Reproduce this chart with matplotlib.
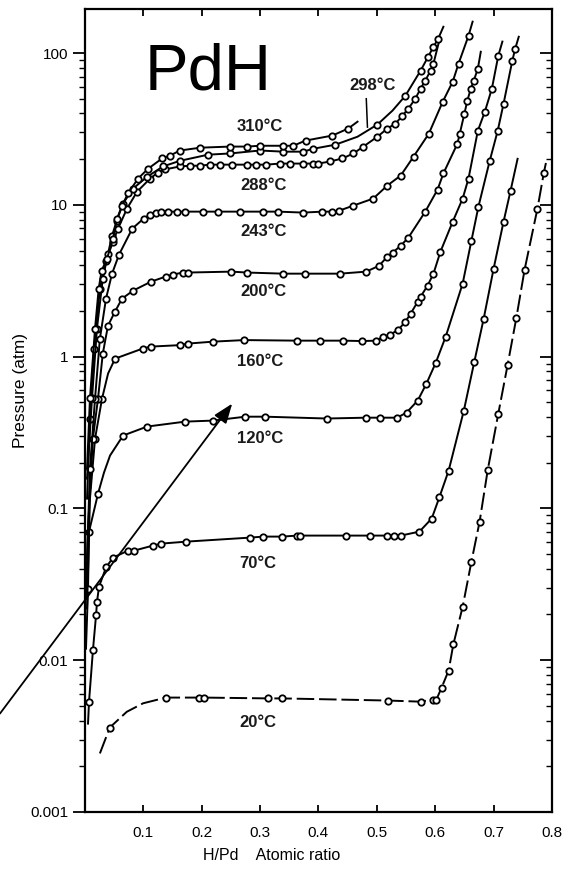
import matplotlib
matplotlib.use("Agg")
import matplotlib.pyplot as plt
from matplotlib.ticker import FixedLocator, NullFormatter, LogLocator

# ---------------- data ----------------
# each isotherm: H/Pd ratio, pressure (atm), marker flag (1 = open marker drawn)
x_20 = [0.026, 0.043, 0.072, 0.100, 0.139, 0.196, 0.205, 0.314, 0.337, 0.520, 0.575, 0.596, 0.602,
        0.611, 0.623, 0.631, 0.647, 0.662, 0.676, 0.690, 0.708, 0.724, 0.739, 0.753, 0.775, 0.786, 0.791]
p_20 = [0.00243, 0.0036, 0.00457, 0.0052, 0.00567, 0.00567, 0.00567, 0.0056, 0.0056, 0.00542, 0.00533, 0.0055, 0.0055,
        0.0066, 0.00855, 0.0127, 0.0225, 0.0446, 0.0818, 0.180, 0.421, 0.885, 1.81, 3.74, 9.44, 16.3, 20.1]
m_20 = [0, 1, 0, 0, 1, 1, 1, 1, 1, 1, 1, 1, 1, 1, 1, 1, 1, 1, 1, 1, 1, 1, 1, 1, 1, 1, 0]

x_70 = [0.0057, 0.0074, 0.0142, 0.0194, 0.0211, 0.0245, 0.0365, 0.0485, 0.0742, 0.0845, 0.117, 0.131, 0.174,
        0.283, 0.306, 0.338, 0.364, 0.369, 0.448, 0.489, 0.517, 0.529, 0.541, 0.573, 0.594, 0.607, 0.623,
        0.649, 0.667, 0.683, 0.700, 0.717, 0.729, 0.741]
p_70 = [0.00382, 0.00533, 0.01175, 0.0197, 0.0243, 0.0305, 0.0408, 0.0474, 0.0527, 0.0527, 0.0569, 0.0586, 0.0604,
        0.0642, 0.0652, 0.0652, 0.0662, 0.0662, 0.0662, 0.0662, 0.0662, 0.0662, 0.0662, 0.0703, 0.0857, 0.118, 0.1775,
        0.441, 0.927, 1.78, 3.80, 7.75, 12.4, 20.1]
m_70 = [0, 1, 1, 1, 1, 1, 1, 1, 1, 1, 1, 1, 1, 1, 1, 1, 1, 1, 1, 1, 1, 1, 1, 1, 1, 1, 1, 1, 1, 1, 1, 1, 1, 0]

x_120 = [0.0022, 0.0057, 0.0074, 0.0228, 0.0330, 0.0434, 0.0657, 0.1068, 0.172, 0.220, 0.275, 0.309, 0.414, 0.482,
         0.505, 0.535, 0.551, 0.570, 0.585, 0.601, 0.618, 0.647, 0.662, 0.674, 0.693, 0.707, 0.717, 0.732,
         0.737, 0.743]
p_120 = [0.0119, 0.0296, 0.0703, 0.125, 0.172, 0.223, 0.302, 0.346, 0.373, 0.379, 0.402, 0.402, 0.391, 0.396,
         0.396, 0.396, 0.428, 0.513, 0.664, 0.912, 1.355, 3.03, 5.81, 9.73, 19.3, 30.8, 46.4, 89.1,
         107, 128]
m_120 = [0, 1, 1, 1, 0, 0, 1, 1, 1, 1, 1, 1, 1, 1, 1, 1, 1, 1, 1, 1, 1, 1, 1, 1, 1, 1, 1, 1, 1, 0]

x_160 = [0.004, 0.009, 0.0177, 0.0297, 0.040, 0.052, 0.099, 0.113, 0.163, 0.176, 0.220, 0.273, 0.364, 0.403,
         0.443, 0.475, 0.499, 0.511, 0.523, 0.537, 0.549, 0.558, 0.570, 0.575, 0.587, 0.597, 0.609, 0.630,
         0.647, 0.657, 0.673, 0.685, 0.697, 0.708, 0.715]
p_160 = [0.0219, 0.116, 0.288, 0.529, 0.773, 0.97, 1.129, 1.164, 1.19, 1.218, 1.255, 1.285, 1.274, 1.274,
         1.274, 1.266, 1.274, 1.355, 1.396, 1.506, 1.70, 1.92, 2.30, 2.48, 2.94, 3.52, 4.92, 7.75,
         11.0, 14.9, 30.8, 41.1, 58.3, 96.1, 119]
m_160 = [0, 0, 1, 1, 0, 1, 1, 1, 1, 1, 1, 1, 1, 1, 1, 1, 1, 1, 1, 1, 1, 1, 1, 1, 1, 1, 1, 1, 1, 1, 1, 1, 1, 1, 0]

x_200 = [0.002, 0.0057, 0.014, 0.0228, 0.031, 0.0399, 0.0519, 0.0639, 0.0828, 0.1137, 0.139, 0.151, 0.168, 0.177,
         0.251, 0.278, 0.340, 0.377, 0.437, 0.482, 0.504, 0.518, 0.527, 0.541, 0.554, 0.583, 0.604, 0.614,
         0.638, 0.642, 0.650, 0.655, 0.661, 0.666, 0.673, 0.678]
p_200 = [0.0255, 0.0736, 0.288, 0.529, 1.047, 1.6, 1.98, 2.41, 2.72, 3.12, 3.37, 3.47, 3.58, 3.58,
         3.63, 3.58, 3.52, 3.52, 3.52, 3.63, 3.97, 4.56, 4.84, 5.38, 6.08, 9.02, 12.6, 16.1,
         25.3, 29.4, 39.9, 48.6, 58.3, 65.8, 78.9, 102]
m_200 = [0, 0, 1, 1, 1, 1, 1, 1, 1, 1, 1, 1, 1, 1, 1, 1, 1, 1, 1, 1, 1, 1, 1, 1, 1, 1, 1, 1, 1, 1, 1, 1, 1, 1, 1, 0]

x_243 = [0.004, 0.009, 0.0177, 0.026, 0.0365, 0.0468, 0.0588, 0.0814, 0.1008, 0.112, 0.122, 0.131, 0.143, 0.158,
         0.172, 0.203, 0.229, 0.266, 0.306, 0.331, 0.374, 0.407, 0.424, 0.436, 0.460, 0.494, 0.518, 0.541,
         0.563, 0.589, 0.613, 0.630, 0.640, 0.657, 0.664]
p_243 = [0.0467, 0.183, 0.529, 1.31, 2.41, 3.52, 4.70, 6.97, 8.11, 8.62, 8.89, 9.02, 9.02, 9.02,
         9.02, 9.02, 9.02, 9.02, 9.02, 9.02, 8.89, 9.02, 9.02, 9.16, 9.89, 11.0, 13.4, 15.6,
         20.8, 29.4, 47.9, 64.8, 85.2, 130, 161]
m_243 = [0, 1, 1, 1, 1, 1, 1, 1, 1, 1, 1, 1, 1, 1, 1, 1, 1, 1, 1, 1, 1, 1, 1, 1, 1, 1, 1, 1, 1, 1, 1, 1, 1, 1, 0]

x_288 = [0.004, 0.009, 0.016, 0.026, 0.0365, 0.0485, 0.057, 0.0724, 0.0896, 0.112, 0.125, 0.137, 0.163, 0.180,
         0.197, 0.214, 0.231, 0.252, 0.277, 0.294, 0.311, 0.334, 0.352, 0.374, 0.391, 0.400, 0.420, 0.441,
         0.460, 0.477, 0.501, 0.518, 0.532, 0.544, 0.554, 0.566, 0.575, 0.583, 0.592, 0.597, 0.607]
p_288 = [0.116, 0.39, 1.13, 2.81, 4.29, 5.72, 6.97, 9.44, 12.2, 14.9, 16.3, 17.1, 17.9, 18.1,
         18.1, 18.4, 18.4, 18.4, 18.4, 18.4, 18.4, 18.7, 18.7, 18.7, 18.7, 18.7, 19.3, 20.2,
         21.8, 24.2, 28.1, 31.8, 34.3, 38.7, 43.0, 50.1, 58.3, 65.8, 76.6, 85.2, 121]
m_288 = [0, 1, 1, 1, 1, 1, 1, 1, 1, 1, 1, 1, 1, 1, 1, 1, 1, 1, 1, 1, 1, 1, 1, 1, 1, 1, 1, 1,
         1, 1, 1, 1, 1, 1, 1, 1, 1, 1, 1, 1, 0]

x_298 = [0.004, 0.0125, 0.021, 0.031, 0.040, 0.0468, 0.055, 0.0656, 0.0828, 0.1068, 0.134, 0.163, 0.189, 0.211,
         0.249, 0.300, 0.340, 0.374, 0.391, 0.429, 0.467, 0.501, 0.527, 0.549, 0.575, 0.588, 0.597, 0.605, 0.614]
p_298 = [0.157, 0.53, 1.53, 3.27, 4.77, 6.27, 7.87, 10.2, 12.8, 15.3, 17.9, 19.5, 20.5, 21.4,
         21.8, 22.8, 22.4, 22.4, 23.4, 24.9, 28.1, 33.8, 41.8, 52.4, 76.6, 94.7, 110, 124, 149]
m_298 = [0, 1, 1, 1, 1, 1, 1, 1, 1, 1, 1, 1, 0, 1, 1, 1, 1, 1, 1, 1, 0, 1, 0, 1, 1, 1, 1, 1, 0]

x_310 = [0.004, 0.009, 0.0177, 0.024, 0.029, 0.0382, 0.0485, 0.0554, 0.0639, 0.0742, 0.0914, 0.1085, 0.1325,
         0.146, 0.163, 0.198, 0.249, 0.278, 0.300, 0.340, 0.357, 0.378, 0.424, 0.451, 0.467]
p_310 = [0.183, 0.53, 1.53, 2.81, 3.69, 4.42, 5.99, 8.11, 9.88, 11.9, 14.9, 17.3, 20.2,
         21.1, 22.8, 23.8, 24.2, 24.2, 24.5, 24.5, 24.5, 26.5, 28.6, 31.8, 35.3]
m_310 = [0, 1, 1, 1, 1, 1, 1, 1, 1, 1, 1, 1, 1, 1, 1, 1, 1, 1, 1, 1, 1, 1, 1, 1, 0]

labels = ["20°C", "70°C", "120°C", "160°C", "200°C", "243°C", "288°C", "310°C", "298°C"]
label_x = [0.297, 0.296, 0.300, 0.300, 0.306, 0.306, 0.306, 0.300, 0.493]
label_p = [0.0039, 0.0433, 0.288, 0.927, 2.68, 6.66, 13.4, 33.0, 61.0]

x_ticks = [0.1, 0.2, 0.3, 0.4, 0.5, 0.6, 0.7, 0.8]
x_ticklabels = ["0.1", "0.2", "0.3", "0.4", "0.5", "0.6", "0.7", "0.8"]
y_ticks = [0.001, 0.01, 0.1, 1, 10, 100]
y_ticklabels = ["0.001", "0.01", "0.1", "1", "10", "100"]

# ---------------- figure ----------------
NARROW = ["Liberation Sans Narrow", "Liberation Sans", "DejaVu Sans"]
fig = plt.figure(figsize=(5.62, 8.76), dpi=100)
ax = fig.add_axes([0.1507, 0.0731, 0.8316, 0.9166])
ax.set_yscale("log")
ax.set_xlim(0, 0.8)
ax.set_ylim(0.001, 195)

curves = [
    (x_20, p_20, m_20, (0, (9, 2.5))),
    (x_70, p_70, m_70, "-"),
    (x_120, p_120, m_120, "-"),
    (x_160, p_160, m_160, "-"),
    (x_200, p_200, m_200, "-"),
    (x_243, p_243, m_243, "-"),
    (x_288, p_288, m_288, "-"),
    (x_298, p_298, m_298, "-"),
    (x_310, p_310, m_310, "-"),
]
for xs, ps, ms, ls in curves:
    idx = [i for i, m in enumerate(ms) if m]
    ax.plot(xs, ps, color="black", lw=1.4, ls=ls, marker="o", markevery=idx,
            ms=4.6, mfc="white", mec="black", mew=1.3, zorder=3)

for t, lx, lp in zip(labels, label_x, label_p):
    ax.text(lx, lp, t, ha="center", va="center", fontsize=12, family=NARROW,
            fontweight="bold", color="#1a1a1a")

# pointer line for the 298°C label
ax.plot([0.482, 0.484], [50, 32.5], color="black", lw=1.1)

# big "PdH"
ax.text(0.212, 74, "PdH", ha="center", va="center", fontsize=47,
        family=["Liberation Sans", "DejaVu Sans"], color="black")

# arrow
ax.annotate("", xy=(0.2525, 0.49), xytext=(-0.145, 0.00445),
            xycoords="data", textcoords="data", annotation_clip=False,
            arrowprops=dict(arrowstyle="-|>,head_length=1.2,head_width=0.45", color="black", lw=1.3,
                            shrinkA=0, shrinkB=0))

# ---------------- axes styling ----------------
for s in ax.spines.values():
    s.set_linewidth(1.6)
ax.xaxis.set_major_locator(FixedLocator(x_ticks))
ax.set_xticklabels(x_ticklabels, family=NARROW, fontsize=11)
ax.tick_params(axis="x", which="major", direction="in", length=5, width=1.3, top=True, pad=10)
ax.yaxis.set_major_locator(FixedLocator(y_ticks))
ax.set_yticklabels(y_ticklabels, family=NARROW, fontsize=11)
ax.yaxis.set_minor_locator(LogLocator(base=10, subs=range(2, 10), numticks=20))
ax.yaxis.set_minor_formatter(NullFormatter())
ax.tick_params(axis="y", which="major", direction="out", length=9, width=1.3, pad=3)
ax.tick_params(axis="y", which="minor", direction="out", length=4, width=1.0)

# right-hand inward ticks
axr = ax.twinx()
axr.set_yscale("log")
axr.set_ylim(ax.get_ylim())
axr.yaxis.set_major_locator(FixedLocator(y_ticks))
axr.yaxis.set_minor_locator(LogLocator(base=10, subs=range(2, 10), numticks=20))
axr.yaxis.set_major_formatter(NullFormatter())
axr.yaxis.set_minor_formatter(NullFormatter())
axr.tick_params(axis="y", which="major", direction="in", length=9, width=1.3)
axr.tick_params(axis="y", which="minor", direction="in", length=4, width=1.0)
for s in axr.spines.values():
    s.set_visible(False)

fig.text(20 / 562, 1 - 390 / 876, "Pressure (atm)", rotation=90, ha="center", va="center",
         fontsize=12.5, family=NARROW)
fig.text(272 / 562, 1 - 855 / 876, "H/Pd    Atomic ratio", ha="center", va="center",
         fontsize=11.5, family=NARROW)

fig.savefig("out.png", dpi=100)
